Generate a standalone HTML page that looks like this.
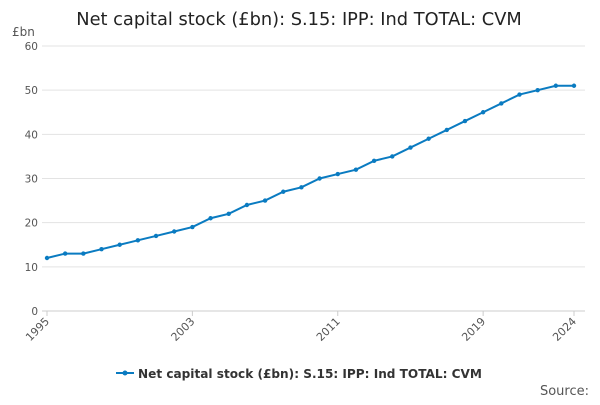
<!DOCTYPE html>
<html><head><meta charset="utf-8"><style>
body{margin:0;background:#fff;font-family:"Liberation Sans","DejaVu Sans",sans-serif}
svg text{font-family:"DejaVu Sans","Liberation Sans",sans-serif}
</style></head><body>
<svg id="c" width="600" height="400">
<text x="299" y="25" text-anchor="middle" font-size="17.8" fill="#222">Net capital stock (£bn): S.15: IPP: Ind TOTAL: CVM</text>
<text x="12" y="36" font-size="12" fill="#555">£bn</text>
<g id="grid"></g><g id="xt"></g><g id="series"></g>
<g>
<line x1="116" y1="373" x2="134" y2="373" stroke="#0a7bc1" stroke-width="2"/>
<circle cx="125" cy="373" r="2.5" fill="#0a7bc1"/>
<text x="138" y="378" font-size="12.1" font-weight="bold" fill="#333">Net capital stock (£bn): S.15: IPP: Ind TOTAL: CVM</text>
</g>
<text x="589" y="395" text-anchor="end" font-size="13" fill="#555">Source:</text>
</svg>
<script>
const years=[1995,1996,1997,1998,1999,2000,2001,2002,2003,2004,2005,2006,2007,2008,2009,2010,2011,2012,2013,2014,2015,2016,2017,2018,2019,2020,2021,2022,2023,2024];
const values=[12,13,13,14,15,16,17,18,19,21,22,24,25,27,28,30,31,32,34,35,37,39,41,43,45,47,49,50,51,51];
const yTicks=[0,10,20,30,40,50,60];
const xTickLabels=[1995,2003,2011,2019,2024];
const NS="http://www.w3.org/2000/svg";
const X=y=>47+(y-1995)*(574-47)/(2024-1995);
const Y=v=>311-v*(311-46)/60;
function mk(t,a,p){const e=document.createElementNS(NS,t);for(const k in a)e.setAttribute(k,a[k]);p.appendChild(e);return e;}
const g=document.getElementById('grid');
yTicks.forEach(v=>{
 const l=mk('line',{x1:42,x2:585,y1:Y(v),y2:Y(v),stroke:v===0?'#ccc':'#e3e3e3','stroke-width':1},g);
 
 
 const t=mk('text',{x:38,y:Y(v)+4,'text-anchor':'end','font-size':10.5,fill:'#555'},g);t.textContent=v;
 
 
});
const xt=document.getElementById('xt');
xTickLabels.forEach(yr=>{
 const x=X(yr);
 const tk=mk('line',{x1:x,x2:x,y1:311,y2:316,stroke:'#ccc'},xt);
 
 
 const t=mk('text',{x:x+3,y:322,'text-anchor':'end','font-size':11,fill:'#555',transform:`rotate(-45 ${x+3} 322)`},xt);t.textContent=yr;
 
 
});
const s=document.getElementById('series');
const p=mk('polyline',{points:years.map((y,i)=>X(y)+','+Y(values[i])).join(' '),fill:'none',stroke:'#0a7bc1','stroke-width':2},s);


years.forEach((y,i)=>{
 const c=mk('circle',{cx:X(y),cy:Y(values[i]),r:2.2,fill:'#0a7bc1'},s);
 
 
});
</script>
</body></html>
